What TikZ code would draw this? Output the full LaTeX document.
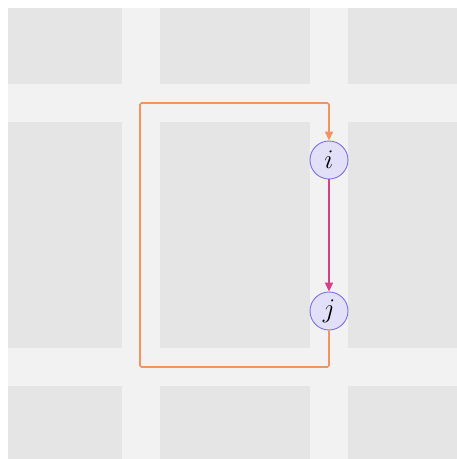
\documentclass[tikz,border=0pt]{standalone}
\usepackage{fix-cm}
\usetikzlibrary{arrows.meta}
\definecolor{road}{HTML}{F2F2F2}
\definecolor{block}{HTML}{E5E5E5}
\definecolor{orng}{HTML}{F4935F}
\definecolor{mag}{HTML}{D4418A}
\definecolor{nfill}{HTML}{E2E0F8}
\definecolor{nline}{HTML}{7B6FEA}
\tikzset{
  vtx/.style={circle, draw=nline, fill=nfill, line width=0.9pt, minimum size=38pt, inner sep=0pt, font=\fontsize{27}{31}\selectfont},
  blk/.style={fill=block, draw=none},
  route/.style={draw=orng, line width=1.6pt, rounded corners=1.5pt, -{Triangle[length=9pt,width=8pt]}},
  link/.style={draw=mag, line width=1.6pt, -{Triangle[length=9pt,width=8pt]}}
}
\begin{document}
\begin{tikzpicture}[x=1pt,y=-1pt]
\useasboundingbox (0,0) rectangle (457,459);
\fill[white] (0,0) rectangle (457,459);
\fill[road] (8,8) rectangle (457,459);
% blocks
\foreach \xa/\xb in {8/122,160/310,348/457}{
  \foreach \ya/\yb in {8/84,122/348,386/459}{
    \fill[blk] (\xa,\ya) rectangle (\xb,\yb);
  }
}
\node[vtx] (i) at (329,160) {$i$};
\node[vtx] (j) at (329,311) {$j$};
\coordinate (c1) at (329,367);
\coordinate (c2) at (140,367);
\coordinate (c3) at (140,103);
\coordinate (c4) at (329,103);
\draw[route] (j.south) -- (c1) -- (c2) -- (c3) -- (c4) -- (i.north);
\draw[link] (i.south) -- (j.north);
\end{tikzpicture}
\end{document}
